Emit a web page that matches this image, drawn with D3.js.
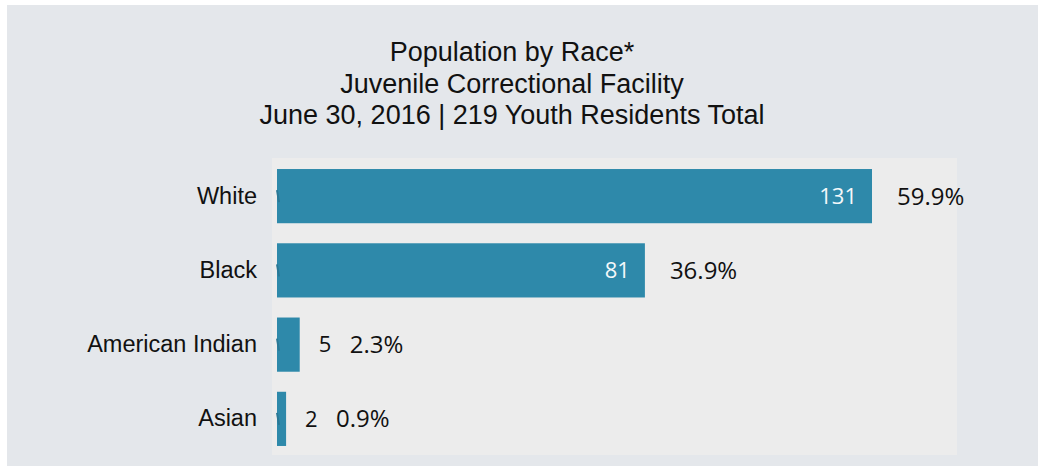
<!DOCTYPE html>
<html><head><meta charset="utf-8">
<script src="https://cdn.jsdelivr.net/npm/d3@7"></script>
<style>
html,body{margin:0;padding:0;background:#fff;}
svg{display:block;}
</style></head>
<body>
<svg id="c" width="1038" height="466"></svg>
<script>
const categories = ["White", "Black", "American Indian", "Asian"];
const counts = [131, 81, 5, 2];
const percents = ["59.9%", "36.9%", "2.3%", "0.9%"];
const titleLines = ["Population by Race*", "Juvenile Correctional Facility", "June 30, 2016 | 219 Youth Residents Total"];

const svg = d3.select("#c");
const W = 1038, H = 466;
svg.append("rect").attr("x", 7).attr("y", 5).attr("width", W - 7).attr("height", H - 5).attr("fill", "#e4e7eb");

const plot = {left: 272, right: 957, top: 158, bottom: 455};
svg.append("rect").attr("x", plot.left).attr("y", plot.top)
  .attr("width", plot.right - plot.left).attr("height", plot.bottom - plot.top).attr("fill", "#ececec");

const x0 = 277;
const x = d3.scaleLinear().domain([0, 131]).range([x0, 872]);
const y = d3.scaleBand().domain(categories).range([159, 456]).paddingInner(0.27).paddingOuter(0.135);

const title = svg.append("g");
titleLines.forEach((t, i) => {
  title.append("text").attr("x", 512).attr("y", 61 + i * 31.5)
    .attr("text-anchor", "middle").attr("font-family", "Liberation Sans, Arial, sans-serif")
    .attr("font-size", 27).attr("fill", "#111").text(t);
});

const data = categories.map((c, i) => ({c, v: counts[i], p: percents[i]}));

svg.append("g").selectAll("rect").data(data).join("rect")
  .attr("x", x(0)).attr("y", d => y(d.c))
  .attr("width", d => x(d.v) - x(0)).attr("height", y.bandwidth())
  .attr("fill", "#2e89aa");

// axis
const ax = svg.append("g").attr("transform", `translate(${x0},0)`)
  .call(d3.axisLeft(y).tickSize(2).tickPadding(18));
ax.select(".domain").remove();
ax.selectAll(".tick line").attr("stroke", "#2a7895").attr("stroke-width", 2).attr("y1", -6).attr("y2", 6).attr("x1", 0).attr("x2", 2);
ax.selectAll(".tick text").attr("font-family", "Liberation Sans, Arial, sans-serif")
  .attr("font-size", 23.5).attr("fill", "#111");

const lf = "Open Sans, Lato, sans-serif";
const lab = svg.append("g");
data.forEach(d => {
  const cy = y(d.c) + y.bandwidth() / 2;
  const xe = x(d.v);
  const inside = xe - x0 > 60;
  if (inside) {
    lab.append("text").attr("x", xe - 15).attr("y", cy).attr("dy", "0.35em")
      .attr("text-anchor", "end").attr("font-family", lf).attr("font-size", 22)
      .attr("fill", "#f4f8fa").text(d.v);
    lab.append("text").attr("x", xe + 25).attr("y", cy).attr("dy", "0.35em")
      .attr("font-family", lf).attr("font-size", 24).attr("fill", "#111").text(d.p);
  } else {
    lab.append("text").attr("x", xe + 19).attr("y", cy).attr("dy", "0.35em")
      .attr("font-family", lf).attr("font-size", 22).attr("fill", "#111").text(d.v);
    lab.append("text").attr("x", xe + 50).attr("y", cy).attr("dy", "0.35em")
      .attr("font-family", lf).attr("font-size", 24).attr("fill", "#111").text(d.p);
  }
});
</script>
</body></html>
